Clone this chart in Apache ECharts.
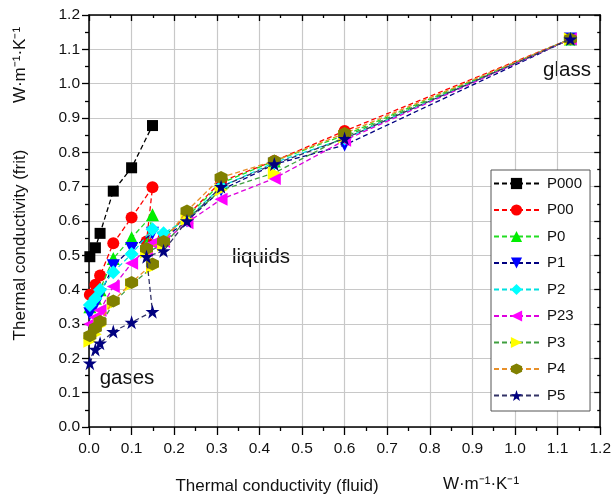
<!DOCTYPE html>
<html><head><meta charset="utf-8">
<script src="https://cdn.jsdelivr.net/npm/echarts@6/dist/echarts.min.js"></script>
<style>html,body{margin:0;padding:0;background:#fff}#c{width:614px;height:498px}</style>
</head><body><div id="c"></div>
<script>
// Fluid thermal conductivity (x) for the gas and liquid regimes
const gasX = [0.002, 0.015, 0.026, 0.057, 0.100, 0.149];
const liqX = [0.135, 0.175, 0.230, 0.310, 0.435, 0.600, 1.130];
const seriesNames = ['P000','P00','P0','P1','P2','P23','P3','P4','P5'];
// Frit thermal conductivity (y) per series: gas part, then liquid part
const P000_gas = [0.496, 0.522, 0.564, 0.687, 0.755, 0.878];
const P000_liq = [];
const P00_gas = [0.385, 0.414, 0.441, 0.535, 0.610, 0.698];
const P00_liq = [0.540, 0.550, 0.615, 0.715, 0.775, 0.862, 1.130];
const P0_gas = [0.350, 0.375, 0.400, 0.491, 0.551, 0.618];
const P0_liq = [0.530, 0.555, 0.612, 0.710, 0.775, 0.850, 1.130];
const P1_gas = [0.330, 0.355, 0.385, 0.470, 0.520, 0.564];
const P1_liq = [0.505, 0.550, 0.600, 0.690, 0.765, 0.821, 1.130];
const P2_gas = [0.355, 0.375, 0.400, 0.451, 0.504, 0.576];
const P2_liq = [0.520, 0.564, 0.605, 0.700, 0.770, 0.840, 1.130];
const P23_gas = [0.300, 0.320, 0.340, 0.409, 0.477, 0.535];
const P23_liq = [0.515, 0.540, 0.595, 0.663, 0.724, 0.835, 1.130];
const P3_gas = [0.250, 0.270, 0.295, 0.360, 0.415, 0.465];
const P3_liq = [0.510, 0.530, 0.605, 0.690, 0.740, 0.845, 1.130];
const P4_gas = [0.266, 0.288, 0.307, 0.367, 0.421, 0.475];
const P4_liq = [0.520, 0.540, 0.629, 0.727, 0.775, 0.855, 1.130];
const P5_gas = [0.186, 0.226, 0.244, 0.278, 0.305, 0.336];
const P5_liq = [0.496, 0.513, 0.600, 0.700, 0.766, 0.840, 1.130];
const tickLabels = ['0.0','0.1','0.2','0.3','0.4','0.5','0.6','0.7','0.8','0.9','1.0','1.1','1.2'];

const gasY = [P000_gas,P00_gas,P0_gas,P1_gas,P2_gas,P23_gas,P3_gas,P4_gas,P5_gas];
const liqY = [P000_liq,P00_liq,P0_liq,P1_liq,P2_liq,P23_liq,P3_liq,P4_liq,P5_liq];

const hexPath = 'path://M50,0 L93.3,25 L93.3,75 L50,100 L6.7,75 L6.7,25 Z';
const starPath = 'path://M50,0 L61.8,35.1 L98.9,35.1 L69.1,56.7 L80.3,91.9 L50,70.3 L19.7,91.9 L30.9,56.7 L1.1,35.1 L38.2,35.1 Z';
const styles = [
  {sym:'rect', rot:0, size:11, mc:'#000000', lc:'#000000'},
  {sym:'circle', rot:0, size:12, mc:'#ff0000', lc:'#ff0000'},
  {sym:'triangle', rot:0, size:13, mc:'#00ee00', lc:'#22dd22'},
  {sym:'triangle', rot:180, size:13, mc:'#0000ff', lc:'#000080'},
  {sym:'diamond', rot:0, size:14, mc:'#00ffff', lc:'#00e0e0'},
  {sym:'triangle', rot:90, size:13, mc:'#ff00ff', lc:'#dd00dd'},
  {sym:'triangle', rot:-90, size:13, mc:'#ffff00', lc:'#3f9f3f'},
  {sym:hexPath, rot:0, size:13, mc:'#808000', lc:'#e8902a'},
  {sym:starPath, rot:0, size:14, mc:'#000080', lc:'#333366'}
];

const series = seriesNames.map((n,i)=>{
  const data = gasX.map((x,j)=>[x, gasY[i][j]]).concat(liqY[i].map((y,j)=>[liqX[j], y]));
  const s = styles[i];
  return {
    name:n, type:'line', data:data, symbol:s.sym, symbolRotate:s.rot, symbolSize:s.size,
    lineStyle:{color:s.lc, width:1.3, type:[5,3]},
    itemStyle:{color:s.mc, borderWidth:0},
    emphasis:{disabled:true}, animation:false, z:2+i
  };
});

const fmt = v => tickLabels[Math.round(v*10)];
const font = 'Liberation Sans, Arial, sans-serif';
const axisCommon = {type:'value', min:0, max:1.2, interval:0.1};
const chart = echarts.init(document.getElementById('c'));
chart.setOption({
  animation:false,
  textStyle:{fontFamily:font},
  grid:{left:89, right:13, top:15, bottom:71, containLabel:false},
  xAxis:[
    Object.assign({}, axisCommon, {position:'bottom',
      axisLine:{show:true, onZero:false, lineStyle:{color:'#000', width:1.5}},
      axisTick:{show:true, inside:false, length:8, lineStyle:{color:'#000', width:1.3}},
      minorTick:{show:true, splitNumber:2, length:4, lineStyle:{color:'#000', width:1.3}},
      splitLine:{show:true, lineStyle:{color:'#c8c8c8', width:1.2}},
      axisLabel:{formatter:fmt, fontSize:15.5, color:'#111', margin:14, fontFamily:font}}),
    Object.assign({}, axisCommon, {position:'top',
      axisLine:{show:true, onZero:false, lineStyle:{color:'#000', width:1.5}},
      axisTick:{show:true, inside:true, length:6, lineStyle:{color:'#000', width:1.3}},
      minorTick:{show:true, splitNumber:2, length:3, lineStyle:{color:'#000', width:1.3}},
      splitLine:{show:false}, axisLabel:{show:false}})
  ],
  yAxis:[
    Object.assign({}, axisCommon, {position:'left',
      axisLine:{show:true, onZero:false, lineStyle:{color:'#000', width:1.5}},
      axisTick:{show:true, inside:false, length:7, lineStyle:{color:'#000', width:1.3}},
      minorTick:{show:true, splitNumber:2, length:4, lineStyle:{color:'#000', width:1.3}},
      splitLine:{show:true, lineStyle:{color:'#c8c8c8', width:1.2}},
      axisLabel:{formatter:fmt, fontSize:15.5, color:'#111', margin:9, fontFamily:font}}),
    Object.assign({}, axisCommon, {position:'right',
      axisLine:{show:true, onZero:false, lineStyle:{color:'#000', width:1.5}},
      axisTick:{show:true, inside:true, length:6, lineStyle:{color:'#000', width:1.3}},
      minorTick:{show:true, splitNumber:2, length:3, lineStyle:{color:'#000', width:1.3}},
      splitLine:{show:false}, axisLabel:{show:false}})
  ],
  legend:{
    orient:'vertical', left:491, top:170, width:93,
    padding:[6,8,8,2], itemWidth:45, itemHeight:14, itemGap:11.5,
    borderColor:'#555', borderWidth:1, backgroundColor:'#fff',
    textStyle:{fontSize:15, color:'#111', fontFamily:font, padding:[0,0,0,3]},
    data:seriesNames
  },
  series:series,
  graphic:[
    {type:'text', x:20, y:245, rotation:Math.PI/2, style:{text:'Thermal conductivity (frit)', font:'17px '+font, fill:'#111', align:'center', verticalAlign:'middle'}},
    {type:'text', x:20, y:65, rotation:Math.PI/2, style:{text:'W·m⁻¹·K⁻¹', font:'17px '+font, fill:'#111', align:'center', verticalAlign:'middle'}},
    {type:'text', x:277, y:486, style:{text:'Thermal conductivity (fluid)', font:'17px '+font, fill:'#111', align:'center', verticalAlign:'middle'}},
    {type:'text', x:481, y:484, style:{text:'W·m⁻¹·K⁻¹', font:'17px '+font, fill:'#111', align:'center', verticalAlign:'middle'}},
    {type:'text', x:127, y:378, style:{text:'gases', font:'20.5px '+font, fill:'#111', align:'center', verticalAlign:'middle'}},
    {type:'text', x:261, y:257, style:{text:'liquids', font:'20.5px '+font, fill:'#111', align:'center', verticalAlign:'middle'}},
    {type:'text', x:567, y:70, style:{text:'glass', font:'20.5px '+font, fill:'#111', align:'center', verticalAlign:'middle'}}
  ]
});
</script></body></html>
